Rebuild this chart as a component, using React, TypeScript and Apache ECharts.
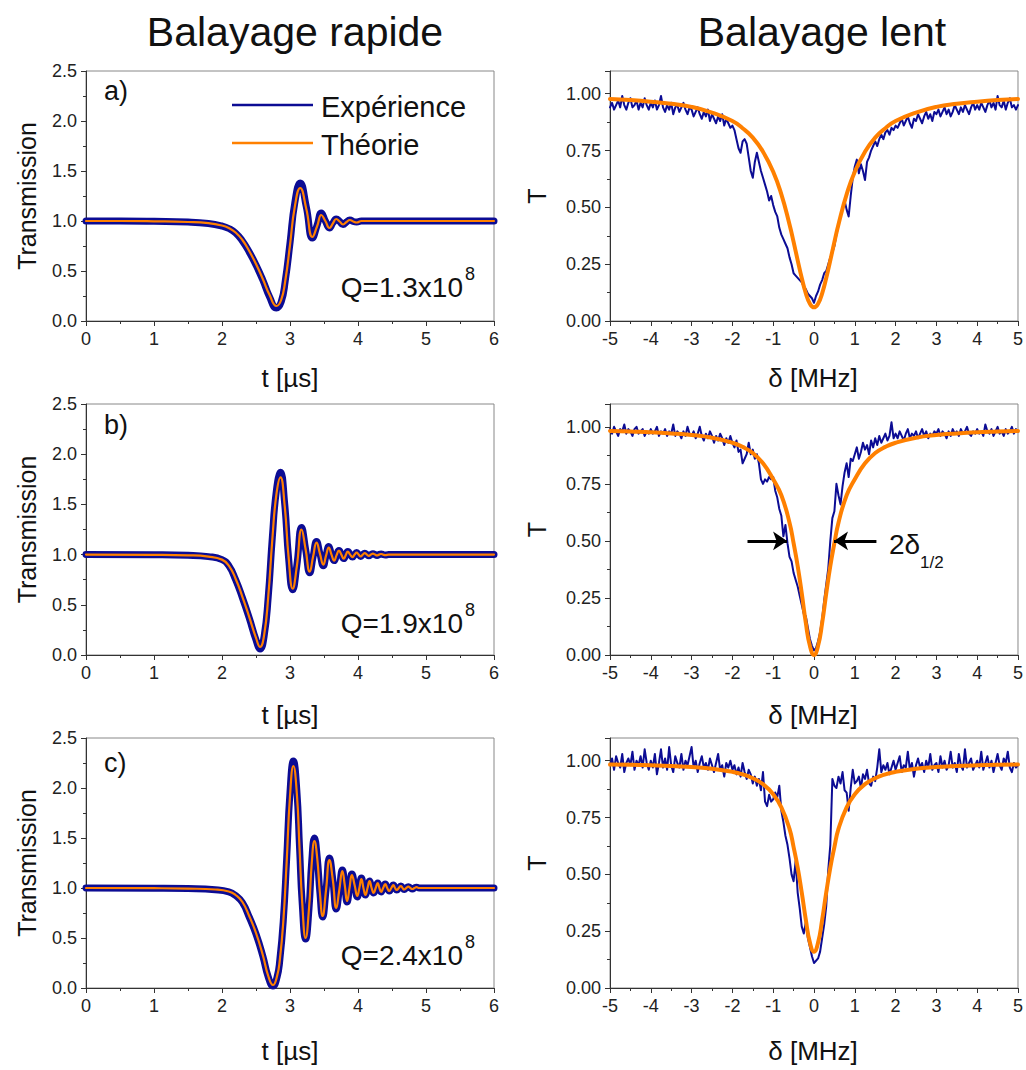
import React, { useEffect, useRef } from "react";
import * as echarts from "echarts";

const BLUE = "#0c0c94";
const ORANGE = "#ff8000";
const FONT = "Liberation Sans, Arial, sans-serif";

// ---------- Fast sweep (t in µs, transmission) ----------
const fastA_theory: number[][] = [
  [0, 1.0], [0.5, 1.0], [1.0, 0.997], [1.5, 0.99], [1.8, 0.978], [2.0, 0.955], [2.1, 0.93], [2.2, 0.885],
  [2.3, 0.81], [2.4, 0.7], [2.5, 0.57], [2.6, 0.42], [2.7, 0.26], [2.8, 0.15], [2.87, 0.21], [2.93, 0.4],
  [3.0, 0.76], [3.07, 1.14], [3.15, 1.33], [3.24, 1.12], [3.33, 0.84], [3.4, 0.95], [3.46, 1.06], [3.52, 1.0],
  [3.58, 0.93], [3.63, 0.975], [3.68, 1.02], [3.73, 0.995], [3.78, 0.965], [3.83, 0.99], [3.88, 1.01],
  [3.93, 0.995], [3.98, 0.985], [4.05, 1.0], [5.0, 1.0], [6.0, 1.0],
];
const fastA_exp: number[][] = [
  [0, 1.0], [0.5, 1.0], [1.0, 0.997], [1.5, 0.99], [1.8, 0.975], [2.0, 0.95], [2.1, 0.925], [2.2, 0.88],
  [2.3, 0.8], [2.4, 0.69], [2.5, 0.56], [2.6, 0.41], [2.7, 0.24], [2.8, 0.13], [2.87, 0.19], [2.93, 0.4],
  [3.0, 0.78], [3.07, 1.18], [3.15, 1.38], [3.24, 1.14], [3.33, 0.83], [3.4, 0.96], [3.46, 1.08], [3.52, 1.0],
  [3.58, 0.93], [3.63, 0.98], [3.68, 1.02], [3.73, 0.995], [3.78, 0.965], [3.83, 0.99], [3.88, 1.01],
  [3.93, 0.995], [3.98, 0.99], [4.05, 1.0], [5.0, 1.0], [6.0, 1.0],
];
const fastB_theory: number[][] = [
  [0, 1.0], [1.0, 0.998], [1.5, 0.993], [1.8, 0.98], [2.0, 0.95], [2.1, 0.89], [2.2, 0.76], [2.3, 0.58],
  [2.4, 0.38], [2.5, 0.17], [2.56, 0.08], [2.62, 0.2], [2.68, 0.58], [2.74, 1.15], [2.8, 1.6], [2.86, 1.77],
  [2.92, 1.5], [2.98, 0.97], [3.04, 0.66], [3.1, 0.88], [3.17, 1.25], [3.23, 1.05], [3.29, 0.83], [3.34, 0.98],
  [3.39, 1.12], [3.44, 1.01], [3.49, 0.9], [3.53, 0.99], [3.57, 1.07], [3.61, 1.0], [3.65, 0.94], [3.685, 0.995],
  [3.72, 1.04], [3.755, 1.0], [3.79, 0.96], [3.82, 0.995], [3.85, 1.03], [3.885, 1.0], [3.92, 0.975], [3.95, 1.0],
  [3.98, 1.02], [4.01, 1.0], [4.04, 0.982], [4.07, 1.0], [4.1, 1.014], [4.13, 1.0], [4.16, 0.988], [4.19, 1.0],
  [4.22, 1.009], [4.25, 1.0], [4.28, 0.992], [4.31, 1.0], [4.34, 1.006], [4.37, 1.0], [4.4, 0.995], [4.45, 1.0],
  [5.0, 1.0], [6.0, 1.0],
];
const fastB_exp: number[][] = [
  [0, 1.0], [1.0, 0.998], [1.5, 0.993], [1.8, 0.98], [2.0, 0.95], [2.1, 0.89], [2.2, 0.75], [2.3, 0.57],
  [2.4, 0.37], [2.5, 0.15], [2.56, 0.06], [2.62, 0.19], [2.68, 0.58], [2.74, 1.17], [2.8, 1.64], [2.86, 1.82],
  [2.92, 1.52], [2.98, 0.96], [3.04, 0.65], [3.1, 0.89], [3.17, 1.27], [3.23, 1.05], [3.29, 0.82], [3.34, 0.98],
  [3.39, 1.13], [3.44, 1.01], [3.49, 0.89], [3.53, 0.99], [3.57, 1.08], [3.61, 1.0], [3.65, 0.94], [3.685, 0.995],
  [3.72, 1.04], [3.755, 1.0], [3.79, 0.96], [3.82, 0.995], [3.85, 1.03], [3.885, 1.0], [3.92, 0.975], [3.95, 1.0],
  [3.98, 1.02], [4.01, 1.0], [4.04, 0.982], [4.07, 1.0], [4.1, 1.014], [4.13, 1.0], [4.16, 0.988], [4.19, 1.0],
  [4.22, 1.009], [4.25, 1.0], [4.28, 0.992], [4.31, 1.0], [4.34, 1.006], [4.37, 1.0], [4.4, 0.995], [4.45, 1.0],
  [5.0, 1.0], [6.0, 1.0],
];
const fastC_theory: number[][] = [
  [0, 1.0], [1.0, 0.998], [1.5, 0.994], [1.9, 0.985], [2.1, 0.965], [2.2, 0.93], [2.3, 0.86], [2.4, 0.72],
  [2.5, 0.55], [2.6, 0.33], [2.68, 0.12], [2.75, 0.03], [2.81, 0.12], [2.85, 0.28], [2.9, 0.65], [2.95, 1.25],
  [3.0, 1.92], [3.05, 2.22], [3.1, 1.95], [3.14, 1.4], [3.18, 0.85], [3.23, 0.5], [3.28, 0.8], [3.32, 1.25],
  [3.36, 1.47], [3.4, 1.3], [3.44, 0.95], [3.48, 0.72], [3.53, 0.98], [3.58, 1.28], [3.63, 1.08], [3.68, 0.8],
  [3.725, 0.98], [3.77, 1.17], [3.805, 1.03], [3.84, 0.87], [3.875, 1.0], [3.91, 1.13], [3.95, 1.03], [3.99, 0.92],
  [4.02, 1.0], [4.05, 1.09], [4.08, 1.0], [4.11, 0.93], [4.14, 1.0], [4.17, 1.07], [4.2, 1.0], [4.23, 0.95],
  [4.26, 1.0], [4.29, 1.05], [4.315, 1.0], [4.34, 0.96], [4.37, 1.0], [4.4, 1.04], [4.43, 1.0], [4.46, 0.97],
  [4.49, 1.0], [4.52, 1.03], [4.545, 1.0], [4.57, 0.98], [4.6, 1.0], [4.63, 1.02], [4.655, 1.0], [4.68, 0.985],
  [4.71, 1.0], [4.74, 1.013], [4.77, 1.0], [4.8, 0.99], [4.83, 1.0], [4.86, 1.008], [4.9, 1.0], [5.0, 1.0], [6.0, 1.0],
];
const fastC_exp: number[][] = [
  [0, 1.0], [1.0, 0.998], [1.5, 0.994], [1.9, 0.983], [2.1, 0.962], [2.2, 0.925], [2.3, 0.855], [2.4, 0.71],
  [2.5, 0.54], [2.6, 0.32], [2.68, 0.11], [2.75, 0.02], [2.81, 0.11], [2.85, 0.28], [2.9, 0.66], [2.95, 1.28],
  [3.0, 1.96], [3.05, 2.27], [3.1, 1.98], [3.14, 1.41], [3.18, 0.84], [3.23, 0.49], [3.28, 0.8], [3.32, 1.27],
  [3.36, 1.5], [3.4, 1.31], [3.44, 0.95], [3.48, 0.71], [3.53, 0.98], [3.58, 1.3], [3.63, 1.08], [3.68, 0.79],
  [3.725, 0.98], [3.77, 1.18], [3.805, 1.03], [3.84, 0.86], [3.875, 1.0], [3.91, 1.14], [3.95, 1.03], [3.99, 0.91],
  [4.02, 1.0], [4.05, 1.1], [4.08, 1.0], [4.11, 0.93], [4.14, 1.0], [4.17, 1.07], [4.2, 1.0], [4.23, 0.95],
  [4.26, 1.0], [4.29, 1.05], [4.315, 1.0], [4.34, 0.96], [4.37, 1.0], [4.4, 1.04], [4.43, 1.0], [4.46, 0.97],
  [4.49, 1.0], [4.52, 1.03], [4.545, 1.0], [4.57, 0.98], [4.6, 1.0], [4.63, 1.02], [4.655, 1.0], [4.68, 0.985],
  [4.71, 1.0], [4.74, 1.013], [4.77, 1.0], [4.8, 0.99], [4.83, 1.0], [4.86, 1.008], [4.9, 1.0], [5.0, 1.0], [6.0, 1.0],
];

// ---------- Slow sweep (δ in MHz, T) ----------
const slowTheoryX = [
  -5, -4.5, -4, -3.5, -3, -2.5, -2, -1.75, -1.5, -1.25, -1, -0.8, -0.6, -0.5, -0.4, -0.3, -0.2, -0.1, 0,
  0.1, 0.2, 0.3, 0.4, 0.5, 0.6, 0.8, 1, 1.25, 1.5, 1.75, 2, 2.5, 3, 3.5, 4, 4.5, 5,
];
const slowA_theory = [
  0.977, 0.972, 0.965, 0.956, 0.942, 0.917, 0.88, 0.848, 0.807, 0.745, 0.657, 0.557, 0.425, 0.348, 0.267, 0.189, 0.122, 0.076, 0.06,
  0.076, 0.122, 0.189, 0.267, 0.348, 0.425, 0.557, 0.657, 0.745, 0.807, 0.848, 0.88, 0.917, 0.942, 0.956, 0.965, 0.972, 0.977,
];
const slowB_theory = [
  0.982, 0.979, 0.976, 0.971, 0.964, 0.952, 0.93, 0.912, 0.885, 0.84, 0.77, 0.7, 0.58, 0.49, 0.39, 0.27, 0.14, 0.04, 0.0,
  0.04, 0.14, 0.27, 0.39, 0.49, 0.58, 0.7, 0.77, 0.84, 0.885, 0.912, 0.93, 0.952, 0.964, 0.971, 0.976, 0.979, 0.982,
];
const slowC_theory = [
  0.983, 0.982, 0.98, 0.977, 0.972, 0.965, 0.951, 0.94, 0.923, 0.897, 0.853, 0.795, 0.7, 0.62, 0.53, 0.42, 0.3, 0.2, 0.16,
  0.2, 0.3, 0.42, 0.53, 0.62, 0.7, 0.795, 0.853, 0.897, 0.923, 0.94, 0.951, 0.965, 0.972, 0.977, 0.98, 0.982, 0.983,
];

const SLOW_X0 = -5;
const SLOW_STEP = 0.05;
const slowA_exp = [
  0.94, 0.96, 0.93, 0.95, 0.97, 0.94, 0.99, 0.95, 0.93, 0.96, 0.98, 0.94, 0.95, 0.97, 0.93, 0.96, 0.94, 0.98, 0.95, 0.93,
  0.96, 0.94, 0.97, 0.93, 0.95, 0.99, 0.94, 0.92, 0.95, 0.93, 0.96, 0.91, 0.94, 0.95, 0.92, 0.94, 0.96, 0.93, 0.91, 0.94,
  0.93, 0.9, 0.92, 0.94, 0.91, 0.89, 0.92, 0.9, 0.93, 0.88, 0.91, 0.89, 0.87, 0.9, 0.88, 0.91, 0.86, 0.89, 0.87, 0.85,
  0.86, 0.84, 0.8, 0.76, 0.74, 0.79, 0.8, 0.78, 0.72, 0.66, 0.63, 0.7, 0.74, 0.7, 0.66, 0.63, 0.6, 0.57, 0.53, 0.55,
  0.51, 0.48, 0.46, 0.41, 0.38, 0.36, 0.34, 0.32, 0.28, 0.25, 0.21, 0.2, 0.19, 0.18, 0.17, 0.15, 0.14, 0.12, 0.11, 0.1,
  0.08, 0.11, 0.13, 0.16, 0.18, 0.21, 0.22, 0.25, 0.28, 0.3, 0.33, 0.38, 0.42, 0.46, 0.5, 0.53, 0.49, 0.46, 0.55, 0.63,
  0.68, 0.71, 0.65, 0.69, 0.66, 0.62, 0.7, 0.72, 0.75, 0.77, 0.79, 0.77, 0.8, 0.82, 0.8, 0.83, 0.84, 0.82, 0.85, 0.84,
  0.86, 0.85, 0.87, 0.89, 0.86, 0.88, 0.9, 0.87, 0.85, 0.89, 0.88, 0.91, 0.89, 0.87, 0.9, 0.92, 0.89, 0.91, 0.88, 0.92,
  0.91, 0.93, 0.9, 0.92, 0.94, 0.91, 0.93, 0.9, 0.92, 0.95, 0.93, 0.91, 0.94, 0.92, 0.95, 0.93, 0.91, 0.94, 0.96, 0.93,
  0.95, 0.93, 0.96, 0.94, 0.92, 0.95, 0.97, 0.94, 0.96, 0.93, 0.99, 0.95, 0.94, 0.97, 0.93, 0.96, 0.98, 0.94, 0.95, 0.93,
  0.95,
];
const slowB_exp = [
  0.99, 0.97, 1.0, 0.98, 0.96, 0.99, 0.98, 1.01, 0.97, 0.99, 0.98, 0.96, 0.99, 1.0, 0.97, 0.98, 0.99, 0.96, 0.98, 0.97,
  0.99, 0.97, 0.98, 1.0, 0.96, 0.98, 0.97, 0.99, 0.96, 0.98, 0.97, 1.01, 0.96, 0.98, 0.97, 0.95, 0.98, 0.96, 1.0, 0.97,
  0.96, 0.98, 0.95, 0.97, 1.0, 0.96, 0.94, 0.97, 0.95, 0.98, 0.96, 0.93, 0.96, 0.94, 0.97, 0.95, 0.92, 0.95, 0.93, 0.96,
  0.93, 0.91, 0.94, 0.89, 0.9, 0.84, 0.86, 0.88, 0.93, 0.88, 0.9, 0.86, 0.88, 0.84, 0.77, 0.75, 0.77, 0.76, 0.78, 0.77,
  0.78, 0.72, 0.69, 0.64, 0.61, 0.52, 0.57, 0.49, 0.43, 0.41, 0.36, 0.33, 0.3, 0.26, 0.22, 0.18, 0.17, 0.12, 0.07, 0.04,
  0.02, 0.03, 0.06, 0.1, 0.16, 0.24, 0.31, 0.38, 0.5, 0.6, 0.63, 0.75, 0.7, 0.66, 0.74, 0.8, 0.84, 0.78, 0.86, 0.85,
  0.88, 0.91, 0.86, 0.89, 0.93, 0.9, 0.92, 0.88, 0.94, 0.91, 0.95, 0.92, 0.96, 0.93, 0.95, 0.97, 0.94, 0.96, 1.02, 0.95,
  0.97, 0.95, 0.98, 0.96, 0.94, 0.97, 0.99, 0.95, 0.97, 0.96, 0.98, 0.95, 0.97, 0.99, 0.96, 0.98, 0.95, 0.97, 0.96, 0.98,
  0.97, 0.99, 0.96, 0.98, 0.97, 0.95, 0.98, 0.96, 0.99, 0.97, 0.98, 0.96, 0.99, 0.97, 0.98, 1.0, 0.97, 0.96, 0.98, 0.97,
  0.99, 0.97, 0.98, 0.96, 1.01, 0.98, 0.97, 0.99, 0.96, 0.98, 1.0, 0.97, 0.98, 0.96, 0.99, 0.97, 0.98, 1.0, 0.97, 0.99,
  0.98,
];
const slowC_exp = [
  0.98, 1.01, 0.96, 1.02, 0.99, 0.97, 1.03, 0.95, 0.99, 1.01, 0.98, 1.04, 0.96, 1.0, 0.98, 1.02, 0.97, 1.05, 0.99, 0.96,
  1.0, 0.97, 1.03, 0.94, 0.99, 1.05, 0.97, 1.01, 0.96, 1.06, 0.98, 0.95, 1.02, 0.99, 0.97, 1.03, 0.96, 1.0, 0.98, 1.02,
  1.06, 0.97, 1.0, 0.95, 0.99, 1.02, 0.97, 0.99, 0.96, 1.01, 0.98, 0.95, 0.99, 1.03, 0.96, 0.98, 0.93, 0.99, 0.97, 1.0,
  0.96, 0.98, 0.94, 0.97, 0.93, 0.99, 0.95, 0.92, 0.96, 0.94, 0.9, 0.93, 0.89, 0.92, 0.87, 0.95, 0.82, 0.8, 0.85, 0.82,
  0.83, 0.86, 0.84, 0.89, 0.78, 0.73, 0.67, 0.63, 0.57, 0.5, 0.47, 0.56, 0.42, 0.35, 0.27, 0.24, 0.29, 0.22, 0.18, 0.14,
  0.11, 0.12, 0.13, 0.16, 0.22, 0.28, 0.36, 0.52, 0.63, 0.92, 0.89, 0.88, 0.93, 0.9, 0.95, 0.87, 0.86, 0.78, 0.88, 0.96,
  0.9, 0.91, 0.93, 0.88, 0.94, 0.92, 0.96, 0.9, 0.89, 0.93, 0.91, 0.97, 1.05, 0.95, 0.98, 0.96, 0.99, 0.94, 0.97, 1.0,
  0.96, 0.99, 1.02, 0.95, 0.98, 0.97, 1.04, 0.96, 0.99, 0.93, 0.98, 1.01, 0.97, 0.99, 0.95, 1.0, 0.97, 1.03, 0.96, 0.98,
  0.99, 0.95, 1.02, 0.97, 1.0, 0.96, 0.98, 1.04, 0.97, 0.99, 0.95, 1.03, 0.98, 0.96, 1.05, 0.97, 0.99, 1.01, 0.96, 0.98,
  1.0, 0.97, 1.04, 0.96, 0.99, 1.02, 0.97, 1.0, 0.95, 0.99, 1.03, 0.98, 0.96, 1.01, 0.99, 1.04, 0.97, 0.95, 0.99, 0.97,
  0.98,
];

const Q_LABELS = ["Q=1.3x10", "Q=1.9x10", "Q=2.4x10"];
const PANEL_LABELS = ["a)", "b)", "c)"];

const slowSeries = (vals: number[]) =>
  vals.map((v, i) => [+(SLOW_X0 + i * SLOW_STEP).toFixed(2), v]);
const theoryPairs = (vals: number[]) => vals.map((v, i) => [slowTheoryX[i], v]);

const GRIDS = [
  { left: 86, top: 71, width: 408, height: 250 },
  { left: 610, top: 71, width: 409, height: 250 },
  { left: 86, top: 404, width: 408, height: 251 },
  { left: 610, top: 404, width: 409, height: 251 },
  { left: 86, top: 738, width: 408, height: 250 },
  { left: 610, top: 738, width: 409, height: 250 },
];

export default function App() {
  const ref = useRef<HTMLDivElement>(null);
  useEffect(() => {
    document.body.style.margin = "0";
    if (!ref.current) return;
    const chart = echarts.init(ref.current, undefined, { renderer: "svg" });

    const axisCommon = {
      axisLine: { show: true, onZero: false, lineStyle: { color: "#333", width: 1 } },
      axisTick: { show: true, inside: false, length: 5, lineStyle: { color: "#333" } },
      minorTick: { show: true, splitNumber: 2, length: 3, lineStyle: { color: "#333" } },
      splitLine: { show: false },
      minorSplitLine: { show: false },
    };

    const xAxis: any[] = [];
    const yAxis: any[] = [];
    for (let i = 0; i < 6; i++) {
      const left = i % 2 === 0;
      xAxis.push({
        type: "value",
        gridIndex: i,
        min: left ? 0 : -5,
        max: left ? 6 : 5,
        interval: 1,
        ...axisCommon,
        axisLabel: { fontSize: 18, color: "#222", margin: 9, fontFamily: FONT },
      });
      yAxis.push({
        type: "value",
        gridIndex: i,
        min: 0,
        max: left ? 2.5 : 1.1,
        interval: left ? 0.5 : 0.25,
        ...axisCommon,
        axisLabel: {
          fontSize: 18,
          color: "#222",
          margin: 9,
          fontFamily: FONT,
          showMaxLabel: left ? true : false,
          formatter: (v: number) => (left ? v.toFixed(1) : v > 1.01 ? "" : v.toFixed(2)),
        },
      });
    }

    const lineSeries = (data: number[][], idx: number, color: string, width: number, smooth: any, z: number) => ({
      type: "line",
      xAxisIndex: idx,
      yAxisIndex: idx,
      data,
      showSymbol: false,
      symbol: "none",
      smooth,
      lineStyle: { color, width, cap: "round", join: "round" },
      z,
      silent: true,
    });

    const series: any[] = [
      lineSeries(fastA_exp, 0, BLUE, 7, 0.5, 2),
      lineSeries(fastA_theory, 0, ORANGE, 2.2, 0.5, 3),
      lineSeries(slowSeries(slowA_exp), 1, BLUE, 2, false, 2),
      lineSeries(theoryPairs(slowA_theory), 1, ORANGE, 4, 0.5, 3),
      lineSeries(fastB_exp, 2, BLUE, 7, 0.5, 2),
      lineSeries(fastB_theory, 2, ORANGE, 2.2, 0.5, 3),
      lineSeries(slowSeries(slowB_exp), 3, BLUE, 2, false, 2),
      {
        ...lineSeries(theoryPairs(slowB_theory), 3, ORANGE, 4, 0.5, 3),
        markLine: {
          silent: true,
          symbol: ["none", "arrow"],
          symbolSize: [14, 14],
          label: { show: false },
          lineStyle: { color: "#000", width: 3, type: "solid" },
          data: [
            [{ coord: [-1.63, 0.5] }, { coord: [-0.66, 0.5] }],
            [{ coord: [1.53, 0.5] }, { coord: [0.49, 0.5] }],
          ],
        },
      },
      lineSeries(fastC_exp, 4, BLUE, 7, 0.5, 2),
      lineSeries(fastC_theory, 4, ORANGE, 2.2, 0.5, 3),
      lineSeries(slowSeries(slowC_exp), 5, BLUE, 2, false, 2),
      lineSeries(theoryPairs(slowC_theory), 5, ORANGE, 4, 0.5, 3),
    ];

    const txt = (text: string, x: number, y: number, size: number, align = "center", extra: any = {}) => ({
      type: "text",
      x,
      y,
      silent: true,
      z: 100,
      ...extra,
      style: {
        text,
        fontSize: size,
        fontFamily: FONT,
        fill: "#111",
        align,
        verticalAlign: "middle",
        textAlign: align,
        textVerticalAlign: "middle",
      },
    });

    const rowCenters = [196, 529.5, 863];
    const xNameY = [378, 715, 1051];
    const qY = [287, 623, 955];
    const supY = [274, 610, 942];
    const panelY = [91, 425, 763];

    const graphic: any[] = [
      txt("Balayage rapide", 295, 32, 41),
      txt("Balayage lent", 822, 32, 41),
    ];
    for (let r = 0; r < 3; r++) {
      graphic.push(txt("Transmission", 27, rowCenters[r], 25, "center", { rotation: Math.PI / 2 }));
      graphic.push(txt("T", 537, rowCenters[r], 25, "center", { rotation: Math.PI / 2 }));
      graphic.push(txt("t [µs]", 290, xNameY[r], 26));
      graphic.push(txt("δ [MHz]", 813, xNameY[r], 26));
      graphic.push(txt(PANEL_LABELS[r], 104, panelY[r], 27, "left"));
      graphic.push(txt(Q_LABELS[r], 463, qY[r], 28, "right"));
      graphic.push(txt("8", 465, supY[r], 18, "left"));
    }
    // legend
    graphic.push({
      type: "line",
      silent: true,
      shape: { x1: 232, y1: 105, x2: 313, y2: 105 },
      style: { stroke: BLUE, lineWidth: 2.5 },
    });
    graphic.push(txt("Expérience", 321, 107, 29, "left"));
    graphic.push({
      type: "line",
      silent: true,
      shape: { x1: 232, y1: 143, x2: 313, y2: 143 },
      style: { stroke: ORANGE, lineWidth: 2.5 },
    });
    graphic.push(txt("Théorie", 321, 145, 29, "left"));
    // 2δ1/2 annotation
    graphic.push(txt("2δ", 889, 544, 28, "left"));
    graphic.push(txt("1/2", 920, 562, 17, "left"));

    chart.setOption({
      animation: false,
      backgroundColor: "#fff",
      textStyle: { fontFamily: FONT },
      grid: GRIDS.map((g) => ({ ...g, show: true, borderColor: "#888", borderWidth: 1, backgroundColor: "transparent" })),
      xAxis,
      yAxis,
      series,
      graphic,
    });
    return () => chart.dispose();
  }, []);
  return <div ref={ref} style={{ width: 1026, height: 1070 }} />;
}
